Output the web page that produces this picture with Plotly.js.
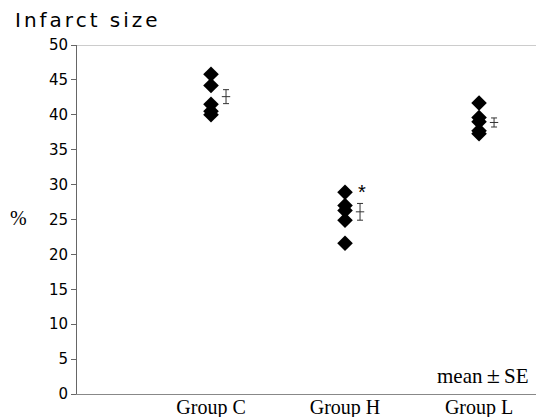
<!DOCTYPE html>
<html><head><meta charset="utf-8">
<script src="https://cdn.plot.ly/plotly-3.0.1.min.js"></script>
<style>html,body{margin:0;padding:0;background:#fff;}#chart{width:536px;height:417px;}</style>
</head><body><div id="chart"></div>
<script>
const categories = ["Group C", "Group H", "Group L"];
const groupC = [45.8, 44.2, 41.5, 40.5, 40.0];
const groupH = [28.9, 27.0, 26.3, 24.9, 21.6];
const groupL = [41.7, 39.6, 39.0, 37.7, 37.3];
const means = [42.6, 26.1, 38.9];
const ses = [1.0, 1.2, 0.65];
const yTicks = [0, 5, 10, 15, 20, 25, 30, 35, 40, 45, 50];

const groups = [groupC, groupH, groupL];
const traces = [];
groups.forEach((vals, i) => {
  traces.push({
    type: 'scatter', mode: 'markers',
    x: vals.map(() => i + 1), y: vals,
    marker: {symbol: 'diamond', size: 12, color: '#000'},
    hoverinfo: 'y', showlegend: false
  });
});
traces.push({
  type: 'scatter', mode: 'markers',
  x: categories.map((c, i) => i + 1 + 0.112), y: means,
  marker: {symbol: 'line-ew', size: 6, color: '#333', line: {width: 1, color: '#333'}},
  error_y: {type: 'data', array: ses, visible: true, color: '#333', thickness: 1, width: 3},
  showlegend: false, hoverinfo: 'y'
});

const layout = {
  width: 536, height: 417,
  margin: {l: 77, r: 0, t: 45, b: 23},
  paper_bgcolor: '#fff', plot_bgcolor: '#fff',
  showlegend: false,
  title: {text: 'Infarct size', x: 0.028, xanchor: 'left', y: 0.952, yanchor: 'middle',
    font: {family: 'DejaVu Sans, Arial, sans-serif', size: 20, color: '#000'}},
  xaxis: {
    range: [0, 3.425], tickvals: [1, 2, 3], ticktext: categories,
    showline: true, linecolor: '#888', linewidth: 1, ticks: '', showgrid: false, zeroline: false,
    tickfont: {family: 'Liberation Serif, Times New Roman, serif', size: 20, color: '#000'},
    ticklabelstandoff: -5,
    fixedrange: true
  },
  yaxis: {
    range: [0, 50], tickvals: yTicks, ticks: 'outside', ticklen: 5, tickcolor: '#666',
    showline: true, linecolor: '#666', linewidth: 1, showgrid: false, zeroline: false,
    tickfont: {family: 'DejaVu Sans, Arial, sans-serif', size: 15, color: '#000'},
    fixedrange: true
  },
  shapes: [
    {type: 'line', xref: 'paper', yref: 'y', x0: 0, x1: 1, y0: 50, y1: 50, line: {color: '#999', width: 1}}
  ],
  annotations: [
    {text: '%', xref: 'paper', yref: 'paper', x: -0.127, y: 0.505, xanchor: 'center', yanchor: 'middle', showarrow: false,
      font: {family: 'Liberation Serif, Times New Roman, serif', size: 20, color: '#000'}},
    {text: '*', xref: 'x', yref: 'y', x: 2.13, y: 28.9, xanchor: 'center', yanchor: 'middle', showarrow: false,
      font: {family: 'Liberation Sans, Arial, sans-serif', size: 20, color: '#000'}},
    {text: 'mean\u2009<span style="font-size:24px">±</span>\u2009SE', xref: 'paper', yref: 'y', x: 0.99, y: 2.7, xanchor: 'right', yanchor: 'middle', showarrow: false,
      font: {family: 'Liberation Serif, Times New Roman, serif', size: 21, color: '#000'}}
  ]
};
Plotly.newPlot('chart', traces, layout, {displayModeBar: false, staticPlot: true}).then(() => {
  document.querySelectorAll('.gtitle').forEach(el => el.style.letterSpacing = '3px');
});
</script></body></html>
